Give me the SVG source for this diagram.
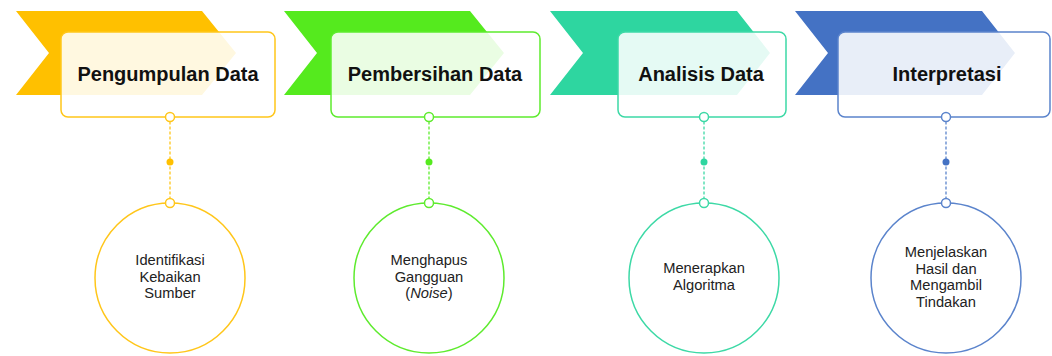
<svg xmlns="http://www.w3.org/2000/svg" width="1052" height="356" viewBox="0 0 1052 356">
<style>
.title{font-family:"Liberation Sans",Arial,sans-serif;font-weight:bold;font-size:20px;fill:#111;text-anchor:middle}
.lbl{font-family:"Liberation Sans",Arial,sans-serif;font-size:14.7px;fill:#222;text-anchor:middle}
.card{fill:#fff;fill-opacity:0.88;stroke-width:1.5}
.big{fill:#fff;stroke-width:1.5}
.port{fill:#fff;stroke-width:1.5}
.dash{stroke-width:1.3;stroke-dasharray:3 2;fill:none}
.y{stroke:#FFC61A}.yf{fill:#FFC000}
.g{stroke:#5EEB2E}.gf{fill:#55EA1E}
.t{stroke:#3DD9A6}.tf{fill:#2ED6A0}
.b{stroke:#5B84CC}.bf{fill:#4472C4}
</style>
<rect width="1052" height="356" fill="#fff"/>
<g id="step1">
<polygon class="yf" points="16,11 202,11 236,53 202,95 16,95 49,53"/>
<rect class="card y" x="61" y="32" width="214" height="85" rx="7"/>
<text class="title" x="168" y="81">Pengumpulan Data</text>
</g>
<g id="step2">
<polygon class="gf" points="284,11 470,11 504,53 470,95 284,95 317,53"/>
<rect class="card g" x="331" y="32" width="209" height="85" rx="7"/>
<text class="title" x="435" y="81">Pembersihan Data</text>
</g>
<g id="step3">
<polygon class="tf" points="550,11 737,11 770,53 737,95 550,95 583,53"/>
<rect class="card t" x="618" y="32" width="168" height="85" rx="7"/>
<text class="title" x="701" y="81">Analisis Data</text>
</g>
<g id="step4">
<polygon class="bf" points="795,11 982,11 1015,53 982,95 795,95 828,53"/>
<rect class="card b" x="838" y="32" width="212" height="85" rx="7"/>
<text class="title" x="947" y="81">Interpretasi</text>
</g>
<g id="detail1">
<circle class="big y" cx="170" cy="278" r="75"/>
<text class="lbl" x="170" y="265">Identifikasi</text>
<text class="lbl" x="170" y="281.5">Kebaikan</text>
<text class="lbl" x="170" y="298">Sumber</text>
</g>
<g id="detail2">
<circle class="big g" cx="429" cy="278" r="75"/>
<text class="lbl" x="429" y="265">Menghapus</text>
<text class="lbl" x="429" y="281.5">Gangguan</text>
<text class="lbl" x="429" y="298">(<tspan font-style="italic">Noise</tspan>)</text>
</g>
<g id="detail3">
<circle class="big t" cx="704" cy="278" r="75"/>
<text class="lbl" x="704" y="273">Menerapkan</text>
<text class="lbl" x="704" y="289.5">Algoritma</text>
</g>
<g id="detail4">
<circle class="big b" cx="946" cy="278" r="75"/>
<text class="lbl" x="946" y="257">Menjelaskan</text>
<text class="lbl" x="946" y="273.5">Hasil dan</text>
<text class="lbl" x="946" y="290">Mengambil</text>
<text class="lbl" x="946" y="306.5">Tindakan</text>
</g>
<g id="connectors">
<line class="dash y" x1="170" y1="121.5" x2="170" y2="198.5"/>
<circle class="port y" cx="170" cy="117" r="4.5"/>
<circle class="yf" cx="170" cy="162" r="3.5"/>
<circle class="port y" cx="170" cy="203" r="4.5"/>
<line class="dash g" x1="429" y1="121.5" x2="429" y2="198.5"/>
<circle class="port g" cx="429" cy="117" r="4.5"/>
<circle class="gf" cx="429" cy="162" r="3.5"/>
<circle class="port g" cx="429" cy="203" r="4.5"/>
<line class="dash t" x1="704" y1="121.5" x2="704" y2="198.5"/>
<circle class="port t" cx="704" cy="117" r="4.5"/>
<circle class="tf" cx="704" cy="162" r="3.5"/>
<circle class="port t" cx="704" cy="203" r="4.5"/>
<line class="dash b" x1="946" y1="121.5" x2="946" y2="198.5"/>
<circle class="port b" cx="946" cy="117" r="4.5"/>
<circle class="bf" cx="946" cy="162" r="3.5"/>
<circle class="port b" cx="946" cy="203" r="4.5"/>
</g>
</svg>
